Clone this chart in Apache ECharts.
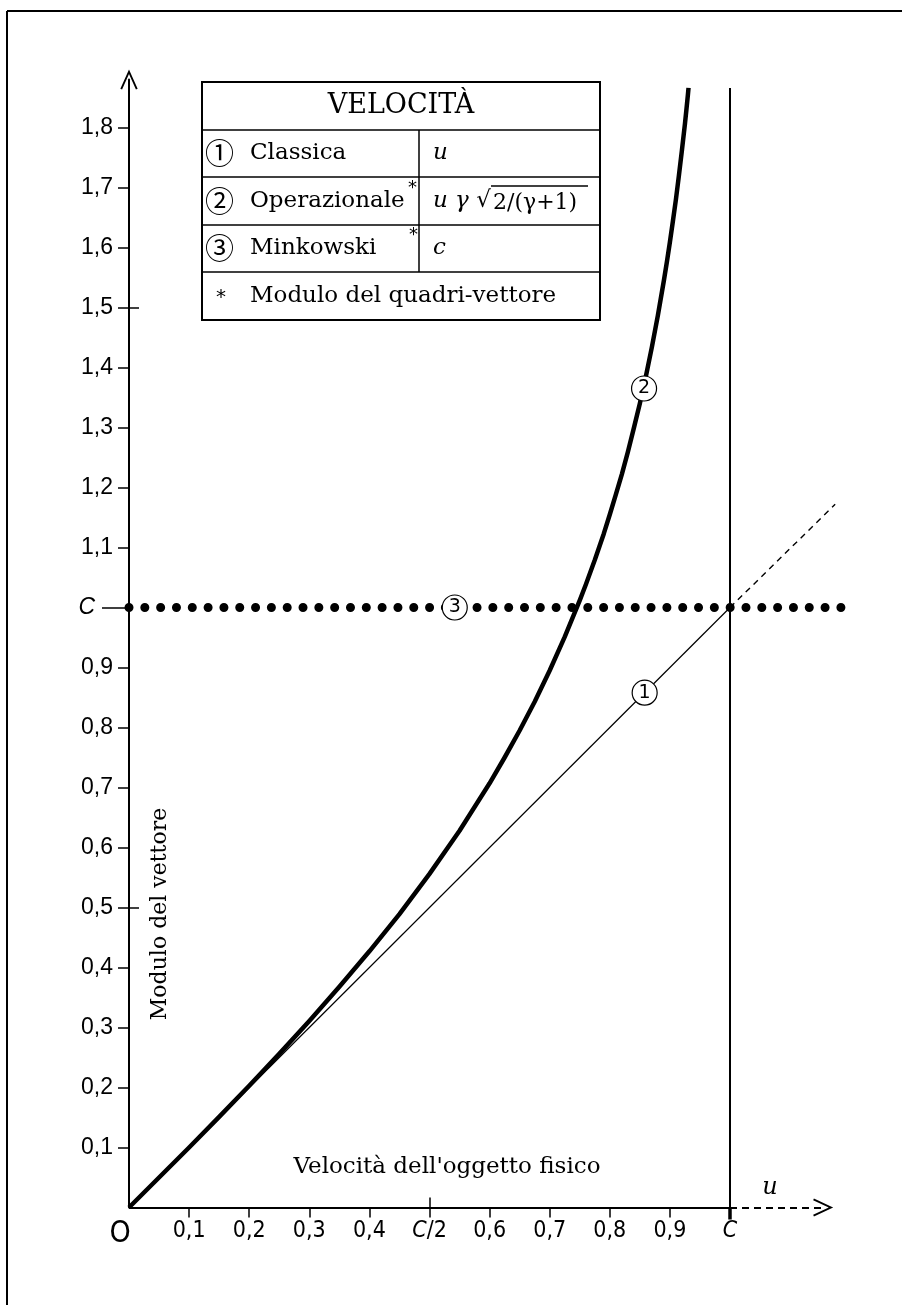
<!DOCTYPE html>
<html><head><meta charset="utf-8">
<script src="https://cdn.jsdelivr.net/npm/echarts@6/dist/echarts.min.js"></script>
<style>html,body{margin:0;padding:0;background:#fff}#c{width:902px;height:1305px}</style>
</head><body><div id="c"></div>
<script>
// ---- data ----
const xTickValues = [0.1,0.2,0.3,0.4,0.5,0.6,0.7,0.8,0.9,1.0];
const xTickLabels = ['0,1','0,2','0,3','0,4','C/2','0,6','0,7','0,8','0,9','C'];
const yTickValues = [0.1,0.2,0.3,0.4,0.5,0.6,0.7,0.8,0.9,1.1,1.2,1.3,1.4,1.5,1.6,1.7,1.8];
const yTickLabels = ['0,1','0,2','0,3','0,4','0,5','0,6','0,7','0,8','0,9','1,1','1,2','1,3','1,4','1,5','1,6','1,7','1,8'];
const classicSolid = [[0,0],[1,1]];
const classicDashed = [[1,1],[1.175,1.172]];
const operU = [0,0.05,0.1,0.15,0.2,0.25,0.3,0.35,0.4,0.45,0.5,0.55,0.6,0.625,0.65,0.675,0.7,0.725,0.75,0.76,0.775,0.79,0.8,0.81,0.82,0.83,0.84,0.85,0.86,0.87,0.88,0.89,0.895,0.9,0.905,0.91,0.915,0.92,0.925,0.9275,0.93,0.931];
const operV = [0,0.050,0.100,0.151,0.203,0.256,0.311,0.368,0.427,0.489,0.556,0.628,0.707,0.750,0.795,0.843,0.895,0.951,1.012,1.038,1.079,1.123,1.155,1.188,1.222,1.259,1.299,1.340,1.385,1.434,1.487,1.545,1.576,1.609,1.644,1.680,1.720,1.762,1.806,1.830,1.855,1.866];
const minkowskiLine = [[0,1],[1.2107,1]];
const cLine = [[1,0],[1,1.866]];
const label1 = [0.858,0.858];
const label2 = [0.857,1.365];
const label3 = [0.542,1];

// ---- chart ----
const chev = 'path://M0,20L9,0L18,20L16.2,20.8L9,4.6L1.8,20.8Z';
const XMAX = 1.22, YMAX = 1.88;
const tickFont = '"Liberation Sans", Arial, sans-serif';
const narrowFont = '"Liberation Sans Narrow", "DejaVu Sans Condensed", "Liberation Sans", sans-serif';
const serif = '"DejaVu Serif", serif';
const circFont = '29px "Noto Sans CJK SC", "DejaVu Sans", sans-serif';
function lookup(vals, labs, v){ const i = vals.findIndex(a=>Math.abs(a-v)<1e-6); return i<0?'':labs[i]; }

function circ(coord, txt){
  return {coord, symbol:'circle', symbolSize:25,
    itemStyle:{color:'#fff', borderColor:'#000', borderWidth:1.2},
    label:{show:true, position:'inside', formatter:txt, color:'#000', fontSize:19, fontFamily:'"DejaVu Sans", sans-serif'}};
}
const baseX = {type:'value', min:0, max:XMAX, position:'bottom', splitLine:{show:false}, axisLine:{show:false}};
const baseY = {type:'value', min:0, max:YMAX, position:'left', splitLine:{show:false}};

const T = (text, x, y, extra) => Object.assign({type:'text', x, y, z:100,
  style:Object.assign({text, font:'23px '+serif, fill:'#000', textAlign:'left', textVerticalAlign:'middle', verticalAlign:'middle'}, (extra&&extra.style)||{})}, extra&&extra.el||{});
const L = (x1,y1,x2,y2,w) => ({type:'line', z:99, shape:{x1,y1,x2,y2}, style:{stroke:'#000', lineWidth:w||1.5}});

const chart = echarts.init(document.getElementById('c'), null, {renderer:'canvas'});
chart.setOption({
  animation:false,
  backgroundColor:'#fff',
  grid:{left:129, top:1207.5-YMAX*600, width:XMAX*601, height:YMAX*600, containLabel:false},
  xAxis:[
    Object.assign({}, baseX, {
      axisTick:{show:true, length:10, customValues:xTickValues, lineStyle:{color:'#000', width:1.5}},
      axisLabel:{show:true, customValues:[0].concat(xTickValues), margin:12, color:'#000', fontSize:23, fontFamily:narrowFont,
        formatter:v => v===0 ? '{o|O}' : (Math.abs(v-0.5)<1e-6 ? '{i|C}/2' : (Math.abs(v-1)<1e-6 ? '{i|C}' : lookup(xTickValues,xTickLabels,v))),
        rich:{o:{fontSize:30, fontFamily:narrowFont, color:'#000', padding:[0,18,0,0]}, i:{fontStyle:'italic', fontSize:23, fontFamily:narrowFont, color:'#000'}}}
    }),
    Object.assign({}, baseX, {axisTick:{show:true, inside:true, length:10, customValues:[0.5,1.0], lineStyle:{color:'#000', width:1.5}}, axisLabel:{show:false}}),
    Object.assign({}, baseX, {axisTick:{show:true, length:12, customValues:[1.0], lineStyle:{color:'#000', width:3.5}}, axisLabel:{show:false}})
  ],
  yAxis:[
    Object.assign({}, baseY, {
      axisLine:{show:true, symbol:['none',chev], symbolSize:[18,20], lineStyle:{color:'#000', width:2}},
      axisTick:{show:true, length:11, customValues:yTickValues, lineStyle:{color:'#000', width:1.5}},
      axisLabel:{show:true, customValues:yTickValues, margin:16, color:'#000', fontSize:23, fontFamily:tickFont,
        formatter:v => lookup(yTickValues,yTickLabels,v)}
    }),
    Object.assign({}, baseY, {axisLine:{show:false}, axisTick:{show:true, inside:true, length:10, customValues:[0.5,1.5], lineStyle:{color:'#000', width:1.5}}, axisLabel:{show:false}}),
    Object.assign({}, baseY, {axisLine:{show:false}, axisTick:{show:true, length:27, customValues:[1.0], lineStyle:{color:'#000', width:1.5}},
      axisLabel:{show:true, customValues:[1.0], margin:34, color:'#000', fontSize:23, fontStyle:'italic', fontFamily:tickFont, formatter:()=> 'C'}})
  ],
  series:[
    {type:'line', name:'asse x', data:[], silent:true,
      markLine:{silent:true, symbol:['none','none'], label:{show:false}, lineStyle:{color:'#000', width:2, type:'solid'},
        data:[[{coord:[0,0]},{coord:[1,0]}]]}},
    {type:'line', name:'asse x tratteggiato', data:[], silent:true,
      markLine:{silent:true, symbol:['none',chev], symbolSize:[18,20], label:{show:false}, lineStyle:{color:'#000', width:2, type:[7,5]},
        data:[[{coord:[1,0]},{coord:[1.155,0]}]]}},
    {type:'line', name:'c', data:cLine, showSymbol:false, symbol:'none', lineStyle:{color:'#000', width:2}, z:2},
    {type:'line', name:'Minkowski', data:minkowskiLine, showSymbol:false, symbol:'none',
      lineStyle:{color:'#000', width:9, type:[0.01,15.81], cap:'round'}, z:3,
      markPoint:{data:[circ(label3,'3')], z:10}},
    {type:'line', name:'Classica', data:classicSolid, showSymbol:false, symbol:'none', lineStyle:{color:'#000', width:1.2}, z:4,
      markPoint:{data:[circ(label1,'1')], z:10}},
    {type:'line', name:'Classica oltre c', data:classicDashed, showSymbol:false, symbol:'none', lineStyle:{color:'#000', width:1.4, type:[6,5]}, z:4},
    {type:'line', name:'Operazionale', data:operU.map((u,i)=>[u,operV[i]]), smooth:false, showSymbol:false, symbol:'none',
      lineStyle:{color:'#000', width:4.5, join:'round'}, z:5, markPoint:{data:[circ(label2,'2')], z:10}}
  ],
  graphic:[
    L(7,11,902,11,2), L(7,11,7,1305,2),
    {type:'rect', z:98, shape:{x:202,y:82,width:398,height:238}, style:{fill:'#fff', stroke:'#000', lineWidth:2}},
    L(202,130,600,130), L(202,177,600,177), L(202,225,600,225), L(202,272,600,272), L(419,130,419,272),
    T('VELOCITÀ', 401, 106, {style:{font:'27px '+serif, textAlign:'center'}}),
    T('①', 205, 153, {style:{font:circFont}}),
    T('Classica', 250, 153),
    T('②', 205, 201, {style:{font:circFont}}),
    T('Operazionale', 250, 201),
    T('*', 408, 188, {style:{font:'18px "DejaVu Sans", sans-serif'}}),
    T('③', 205, 248, {style:{font:circFont}}),
    T('Minkowski', 250, 248),
    T('*', 409, 235, {style:{font:'18px "DejaVu Sans", sans-serif'}}),
    T('*', 216, 298, {style:{font:'20px "DejaVu Sans", sans-serif'}}),
    T('Modulo del quadri-vettore', 250, 296),
    T('u', 433, 153, {style:{font:'italic 23px '+serif}}),
    T('u γ √', 433, 201, {style:{font:'italic 23px '+serif}}),
    T('2/(γ+1)', 493, 203, {style:{font:'22px '+serif}}),
    L(491,186,588,186,1.5),
    T('c', 433, 248, {style:{font:'italic 23px '+serif}}),
    T('Velocità dell\'oggetto fisico', 447, 1167, {style:{font:'23px '+serif, textAlign:'center'}}),
    T('Modulo del vettore', 160, 914, {style:{font:'22px '+serif, textAlign:'center'}, el:{rotation:Math.PI/2}}),
    T('u', 770, 1188, {style:{font:'italic 24px '+serif, textAlign:'center'}})
  ]
});
</script></body></html>
